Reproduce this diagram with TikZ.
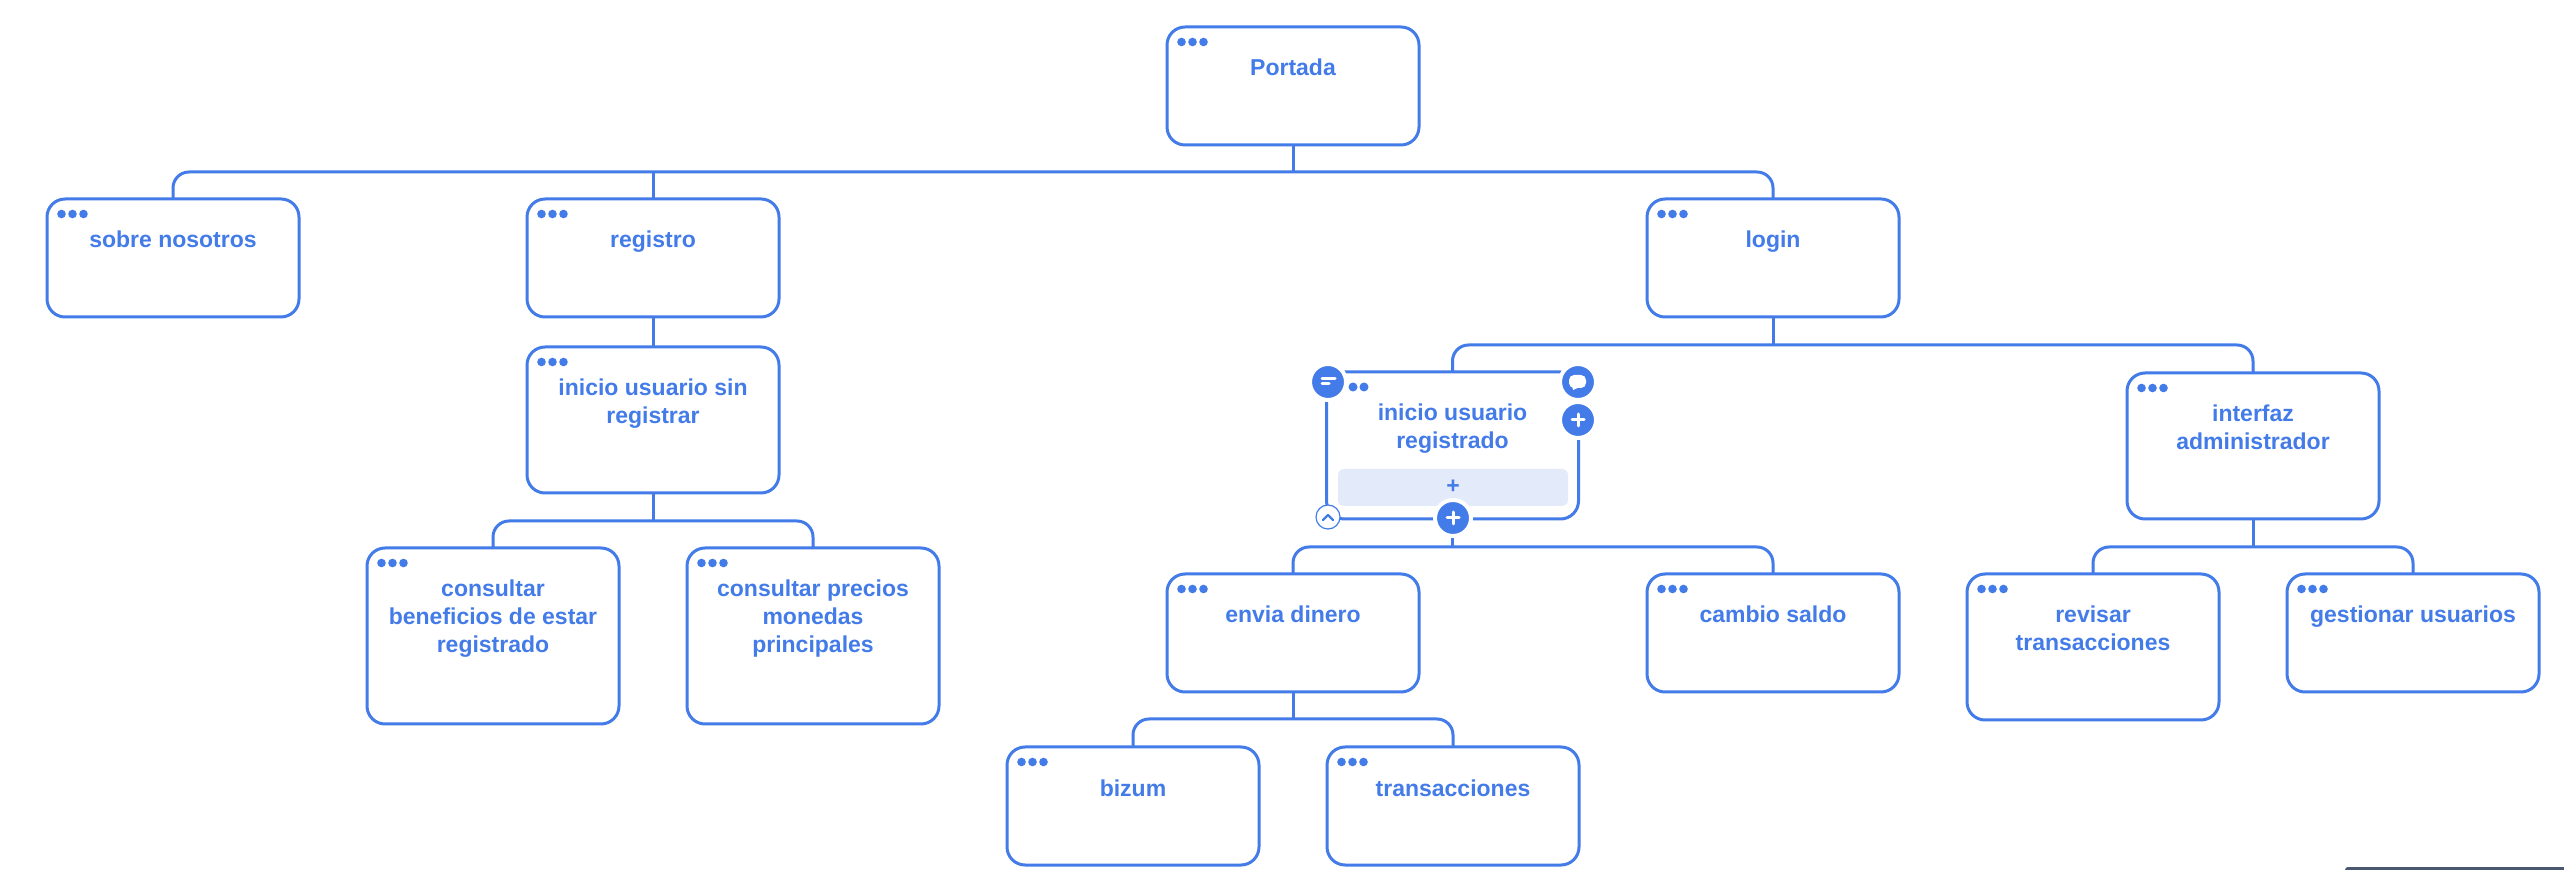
\documentclass[tikz,border=0pt]{standalone}
\usepackage{fontspec}
\setmainfont{Liberation Sans}
\usetikzlibrary{calc}
\definecolor{mapblue}{HTML}{437BE8}
\definecolor{softblue}{HTML}{E3EBFA}
\definecolor{slatebar}{HTML}{4A5872}
\tikzset{
  x=0.5pt,y=-0.5pt,
  pagebox/.style={draw=mapblue,line width=1.5pt,fill=white,rounded corners=9pt,inner sep=0pt,outer sep=0pt,minimum width=126pt},
  pagetext/.style={text=mapblue,font=\fontsize{11.5}{14}\selectfont\bfseries,align=center,anchor=north,inner sep=0pt,outer sep=0pt},
  conn/.style={draw=mapblue,line width=1.5pt,rounded corners=8pt},
  pagedot/.style={fill=mapblue},
  halo/.style={circle,fill=mapblue,draw=white,line width=2pt,minimum size=18pt,inner sep=0pt,outer sep=0pt},
}
\newcommand{\firstline}{\rule{0pt}{8.5pt}}
\newcommand{\pagenode}[5]{%
  \node[pagebox,minimum height=#4*0.5pt] (#1) at (#2,#3) {};
  \node[pagetext] (#1-t) at ($(#1.north)+(0,32)$) {\firstline #5};
  \foreach \dx in {14.5,25.5,36.5}{\fill[pagedot] ($(#1.north west)+(\dx,15)$) circle (4.3);}
}
\begin{document}
\begin{tikzpicture}
\useasboundingbox (0,0) rectangle (2564,870);
\fill[white] (0,0) rectangle (2564,870);
\pagenode{portada}{1293}{86}{118}{Portada}
\pagenode{sobre}{173}{258}{118}{sobre nosotros}
\pagenode{registro}{653}{258}{118}{registro}
\pagenode{login}{1773}{258}{118}{login}
\pagenode{sinreg}{653}{420}{146}{inicio usuario sin\\registrar}
\pagenode{benef}{493}{636}{176}{consultar\\beneficios de estar\\registrado}
\pagenode{precios}{813}{636}{176}{consultar precios\\monedas\\principales}
\pagenode{interfaz}{2253}{446}{146}{interfaz\\administrador}
\pagenode{envia}{1293}{633}{118}{envia dinero}
\pagenode{cambio}{1773}{633}{118}{cambio saldo}
\pagenode{revisar}{2093}{647}{146}{revisar\\transacciones}
\pagenode{gestionar}{2413}{633}{118}{gestionar usuarios}
\pagenode{bizum}{1133}{806}{118}{bizum}
\pagenode{trans}{1453}{806}{118}{transacciones}
% selected node
\node[pagebox,minimum height=73.5pt] (regis) at (1452.5,445.5) {};
\fill[softblue,rounded corners=3pt] (1338,469) rectangle (1568,506);
\node[pagetext] (regis-t) at ($(regis.north)+(0,32)$) {\firstline inicio usuario\\registrado};
\node[text=mapblue,font=\fontsize{11.5}{14}\selectfont\bfseries,inner sep=0pt] (regis-add) at (1453,487) {+};
\foreach \px in {1353,1364}{\fill[pagedot] (\px,387) circle (4.5);}
% connectors
\coordinate (busa) at (portada.south |- 0,172);
\coordinate (busb) at (login.south |- 0,345);
\coordinate (busc) at (sinreg.south |- 0,521);
\coordinate (busd) at (regis.south |- 0,547);
\coordinate (buse) at (envia.south |- 0,719);
\coordinate (busf) at (interfaz.south |- 0,547);
\draw[conn] (portada.south) -- (busa);
\draw[conn] (sobre.north) |- (busa) -| (login.north);
\draw[conn] (busa -| registro.north) -- (registro.north);
\draw[conn] (registro.south) -- (sinreg.north);
\draw[conn] (login.south) -- (busb);
\draw[conn] (regis.north) |- (busb) -| (interfaz.north);
\draw[conn] (sinreg.south) -- (busc);
\draw[conn] (benef.north) |- (busc) -| (precios.north);
\draw[conn] (regis.south) -- (busd);
\draw[conn] (envia.north) |- (busd) -| (cambio.north);
\draw[conn] (envia.south) -- (buse);
\draw[conn] (bizum.north) |- (buse) -| (trans.north);
\draw[conn] (interfaz.south) -- (busf);
\draw[conn] (revisar.north) |- (busf) -| (gestionar.north);
% buttons
\node[halo] (btn-eq) at (1328,382) {};
\draw[white,line width=1.5pt,line cap=round] (1322,379) -- (1335,379) (1322,384) -- (1329,384);
\node[halo] (btn-chat) at (1578,382) {};
\fill[white,rounded corners=2.5pt] (1569,375) rectangle (1586,388);
\fill[white] (1572,386) -- (1573,390) -- (1580,387) -- cycle;
\node[halo] (btn-plus) at (1578,420) {};
\draw[white,line width=1.5pt,line cap=round] (1572,420) -- (1584,420) (1578,414) -- (1578,426);
\node[halo] (btn-add) at (1453,518) {};
\draw[white,line width=1.5pt,line cap=round] (1447,518) -- (1459,518) (1453,512) -- (1453,524);
\node[circle,fill=white,draw=mapblue,line width=0.6pt,minimum size=12pt,inner sep=0pt] (btn-up) at (1328,517) {};
\draw[mapblue,line width=1.2pt,line cap=round,line join=round] (1323,520) -- (1328,515) -- (1333,520);
% bottom edge bar
\fill[slatebar,rounded corners=1.5pt] (2345,867) rectangle (2570,880);
\end{tikzpicture}
\end{document}
